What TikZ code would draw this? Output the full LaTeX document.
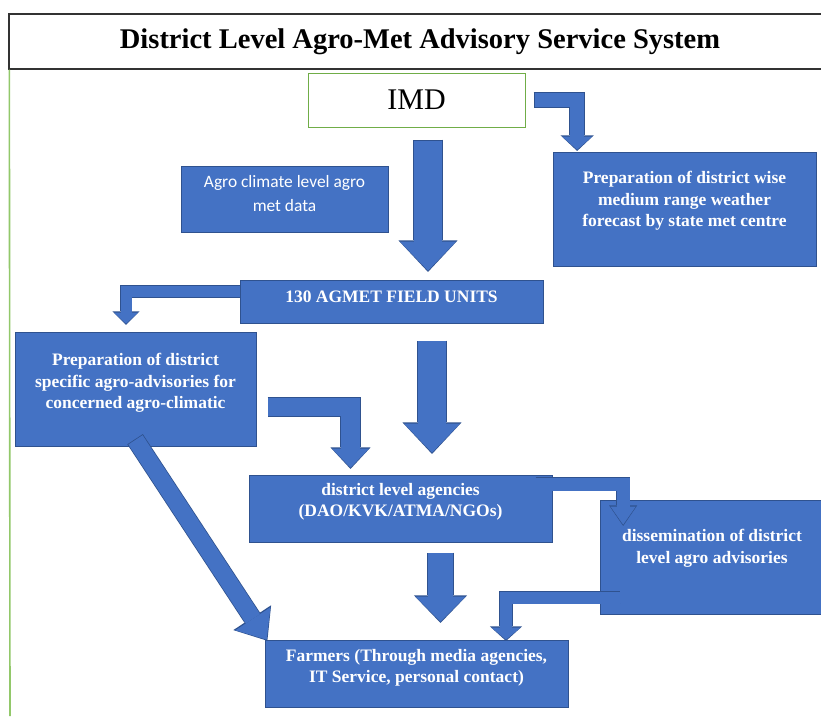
\documentclass[tikz,border=0pt]{standalone}
\usepackage{fontspec}
\setmainfont{Liberation Serif}
\newfontfamily\calibrifont{Carlito}
\usetikzlibrary{arrows.meta}

\definecolor{boxblue}{HTML}{4472C4}
\definecolor{boxline}{HTML}{2F528F}
\definecolor{imdgreen}{HTML}{70AD47}
\definecolor{sidegreen}{HTML}{92C86A}

% block arrow: shaft width, head width, head length, path
\newcommand{\flowarrow}[4]{%
  \pgfmathsetmacro\ow{#1+1.6}%
  \pgfmathsetmacro\ohw{#2+3.2}%
  \pgfmathsetmacro\ohl{#3+2.6}%
  \draw[boxline, line width=\ow pt, shorten <=-0.8pt, shorten >=-1.3pt,
    -{Triangle[width=\ohw pt, length=\ohl pt, line width=0pt]}] #4;
  \draw[boxblue, line width=#1pt,
    -{Triangle[width=#2pt, length=#3pt, line width=0pt]}] #4;
}

\begin{document}
\begin{tikzpicture}[x=1pt, y=-1pt,
  box/.style={draw=boxline, fill=boxblue, line width=0.7pt, inner sep=0pt},
  boxtext/.style={text=white, align=center, font=\bfseries\fontsize{17.5}{21.5}\selectfont},
  agrotext/.style={text=white, align=center, font=\calibrifont\fontsize{17.4}{24}\selectfont}]
  \path[use as bounding box, fill=white] (0,0) rectangle (821,716);
  \clip (0,0) rectangle (821,716);
  % heading
  \node[draw=black!80, line width=1.3pt, minimum width=822pt, minimum height=55pt, inner sep=0pt,
    font=\bfseries\fontsize{28.5}{34}\selectfont] (title) at (420,41.5) {District Level Agro-Met Advisory Service System};
  \draw[sidegreen, line width=1.6pt] (title.south west) ++(1,0) -- (10,716);
  % boxes
  \node[draw=imdgreen, line width=1pt, fill=white, minimum width=217pt, minimum height=54pt, inner sep=0pt,
    font=\fontsize{30}{36}\selectfont] (imd) at (416.5,100) {IMD};
  \node[box, minimum width=207pt, minimum height=66pt] (agro) at (284.5,199) {};
  \node[agrotext] (agrotext) at ([yshift=5pt]agro.center) {Agro climate level agro\\met data};
  \node[box, minimum width=263pt, minimum height=114pt] (state) at (684.5,209) {};
  \node[boxtext] (statetext) at ([yshift=8pt]state.center) {Preparation of district wise\\medium range weather\\forecast by state met centre};
  \node[box, minimum width=303pt, minimum height=43pt] (agmet) at (391.5,301.5) {};
  \node[boxtext] (agmettext) at ([yshift=5pt]agmet.center) {130 AGMET FIELD UNITS};
  \node[box, minimum width=241pt, minimum height=114pt] (prep) at (135.5,389) {};
  \node[boxtext] (preptext) at ([yshift=6pt]prep.center) {Preparation of district\\specific agro-advisories for\\concerned agro-climatic};
  \node[box, minimum width=303pt, minimum height=67pt] (agency) at (400.5,508.5) {};
  \node[boxtext] (agencytext) at ([yshift=6.5pt]agency.center) {district level agencies\\(DAO/KVK/ATMA/NGOs)};
  \node[box, minimum width=224pt, minimum height=114pt] (dissem) at (712,557) {};
  \node[boxtext] (dissemtext) at ([yshift=8.5pt]dissem.center) {dissemination of district\\level agro advisories};
  \node[box, minimum width=303pt, minimum height=67pt] (farmers) at (416.5,673.5) {};
  \node[boxtext] (farmerstext) at ([yshift=5.5pt]farmers.center) {Farmers (Through media agencies,\\IT Service, personal contact)};
  % arrows
  \flowarrow{14}{30}{13}{([shift={(9,0)}]imd.east) -| ([shift={(24.5,-2)}]state.north west)}
  \flowarrow{28}{56}{29}{([shift={(11.5,13)}]imd.south) -- ([shift={(36.5,-9)}]agmet.north)}
  \flowarrow{11}{24}{11}{([shift={(0,-10)}]agmet.west) -| ([shift={(-9.5,-8)}]prep.north)}
  \flowarrow{18.5}{37}{19}{([shift={(12,18)}]prep.east) -| ([shift={(-50,-7)}]agency.north)}
  \flowarrow{28}{56}{29}{([shift={(40.5,18)}]agmet.south) -- ([shift={(31.5,-22)}]agency.north)}
  \flowarrow{17}{42}{25}{([shift={(0,-6.5)}]prep.south) -- ([shift={(2,0)}]farmers.north west)}
  \flowarrow{13}{25}{18}{([shift={(-16,9.5)}]agency.north east) -| ([shift={(23.5,25)}]dissem.north west)}
  \flowarrow{25}{50}{25}{([shift={(40,11)}]agency.south) -- ([shift={(24,-18)}]farmers.north)}
  \flowarrow{11.5}{29}{12}{([shift={(20,-16.5)}]dissem.south west) -| ([shift={(89.5,0)}]farmers.north)}
\end{tikzpicture}
\end{document}
